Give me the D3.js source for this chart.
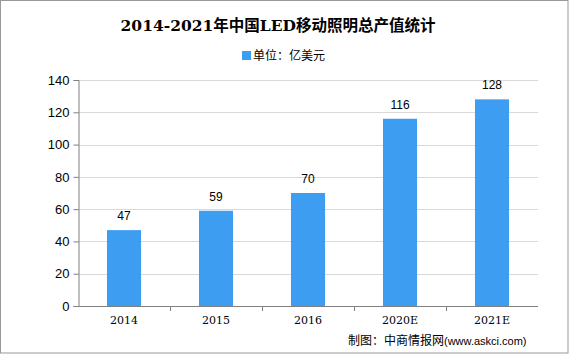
<!DOCTYPE html>
<html><head><meta charset="utf-8">
<script src="https://cdn.jsdelivr.net/npm/d3@7/dist/d3.min.js"></script>
<style>body{margin:0;background:#fff}svg{display:block}</style>
</head><body>
<script>
const categories = ["2014","2015","2016","2020E","2021E"];
const values = [47,59,70,116,128];
const yTicks = [0,20,40,60,80,100,120,140];

const W=569,H=354;
const svg=d3.select("body").append("svg").attr("width",W).attr("height",H);
svg.append("rect").attr("x",0.5).attr("y",0.5).attr("width",W-1.5).attr("height",H-1.5)
  .attr("fill","#fff").attr("stroke","#999");

const m={l:78,r:538,t:80,b:306};
const x=d3.scaleBand().domain(categories).range([m.l,m.r]).paddingInner(0.63).paddingOuter(0.315);
const xb=d3.scaleBand().domain(categories).range([m.l,m.r]);
const y=d3.scaleLinear().domain([0,140]).range([m.b,m.t]);

// grid
svg.append("g").selectAll("line").data(yTicks.filter(d=>d>0)).join("line")
  .attr("x1",m.l).attr("x2",m.r).attr("y1",d=>Math.round(y(d))+0.5).attr("y2",d=>Math.round(y(d))+0.5)
  .attr("stroke","#d9d9d9");

// bars
svg.append("g").selectAll("rect").data(values).join("rect")
  .attr("x",(d,i)=>x(categories[i])).attr("width",x.bandwidth())
  .attr("y",d=>y(d)).attr("height",d=>m.b-y(d)).attr("fill","#3d9df0");

// value labels
svg.append("g").selectAll("text").data(values).join("text")
  .attr("x",(d,i)=>x(categories[i])+x.bandwidth()/2).attr("y",d=>y(d)-10)
  .attr("text-anchor","middle").attr("font-family","Liberation Sans, sans-serif").attr("font-size",12)
  .attr("fill","#000").text(d=>d);

// y axis
const ya=svg.append("g").attr("transform",`translate(${m.l+0.5},0)`)
  .call(d3.axisLeft(y).tickValues(yTicks).tickSize(5).tickPadding(4));
ya.select(".domain").attr("stroke","#808080");
ya.selectAll(".tick line").attr("stroke","#808080");
ya.selectAll(".tick text").attr("font-family","Liberation Sans, sans-serif").attr("font-size",13).attr("fill","#000");

// x axis
const xa=svg.append("g").attr("transform",`translate(0,${m.b+0.5})`)
  .call(d3.axisBottom(xb).tickSize(0).tickPadding(10));
xa.select(".domain").attr("stroke","#808080").attr("d",`M${m.l},0H${m.r}`);
xa.selectAll(".tick text").attr("font-family","DejaVu Serif, serif").attr("font-size",11).attr("fill","#000");
svg.append("g").selectAll("line").data(categories.slice(1)).join("line")
  .attr("x1",d=>Math.round(xb(d))+0.5).attr("x2",d=>Math.round(xb(d))+0.5)
  .attr("y1",m.b).attr("y2",m.b+5).attr("stroke","#808080");

// title
svg.append("text").attr("x",278).attr("y",31).attr("text-anchor","middle")
  .attr("font-family","DejaVu Serif, Noto Sans CJK SC, serif").attr("font-weight","bold").attr("font-size",15.5)
  .attr("fill","#000").text("2014-2021年中国LED移动照明总产值统计");

// legend
svg.append("rect").attr("x",242).attr("y",51).attr("width",9).attr("height",9).attr("fill","#3d9df0");
svg.append("text").attr("x",253).attr("y",60).attr("font-family","Noto Sans CJK SC, sans-serif")
  .attr("font-size",12).attr("fill","#000").text("单位：亿美元");

// source
const src=svg.append("text").attr("x",348).attr("y",345).attr("font-family","Noto Sans CJK SC, sans-serif")
  .attr("font-size",12).attr("fill","#000");
src.append("tspan").text("制图：中商情报网");
src.append("tspan").attr("font-family","Liberation Sans, sans-serif").attr("font-size",11).text("(www.askci.com)");
</script>
</body></html>
